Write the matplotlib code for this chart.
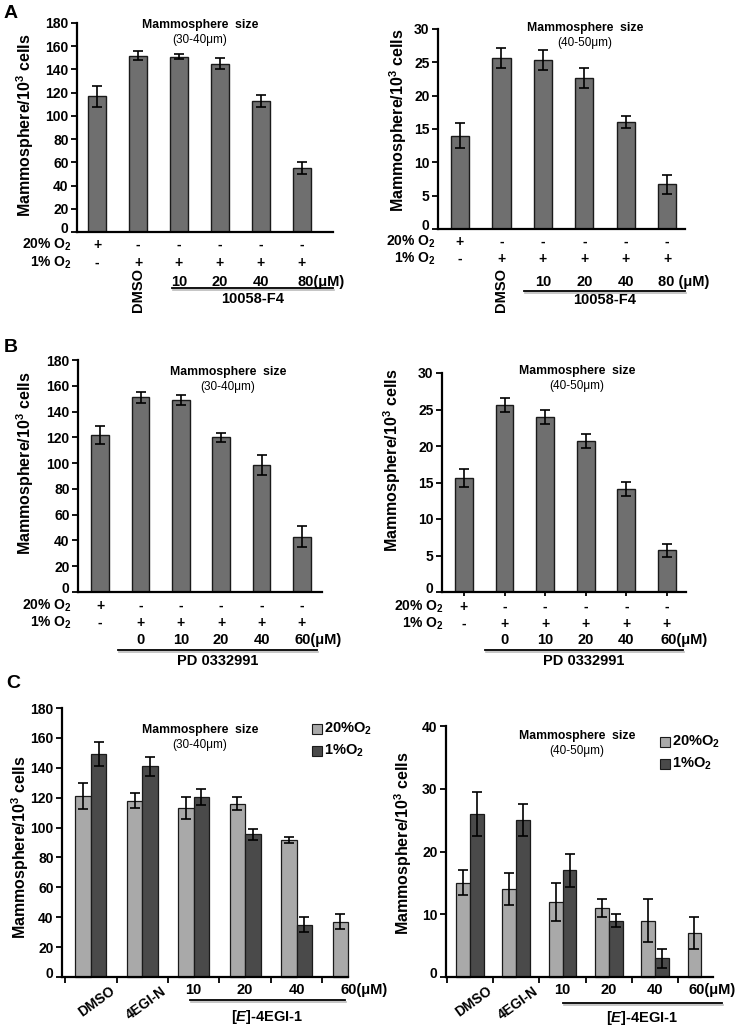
import numpy as np
import matplotlib
matplotlib.use('Agg')
import matplotlib.pyplot as plt
from matplotlib.transforms import blended_transform_factory, ScaledTranslation

plt.rcParams['font.family'] = ['Liberation Sans', 'DejaVu Sans']
plt.rcParams['font.weight'] = 'bold'
plt.rcParams['mathtext.fontset'] = 'custom'
plt.rcParams['mathtext.rm'] = 'Liberation Sans:bold'
plt.rcParams['mathtext.bf'] = 'Liberation Sans:bold'
plt.rcParams['mathtext.it'] = 'Liberation Sans:italic:bold'

# ---- data ----
a_dose = ['10', '20', '40', '80']
a_size30 = [117, 152, 151, 145, 113, 55]
a_err30 = [9, 3.5, 2, 5, 5, 5]
a_size40 = [14, 25.7, 25.3, 22.6, 16, 6.7]
a_err40 = [1.9, 1.5, 1.5, 1.5, 0.9, 1.4]

b_dose = ['0', '10', '20', '40', '60']
b_size30 = [122, 151, 149, 120, 98.5, 43]
b_err30 = [7, 4, 4, 3.5, 8, 8]
b_size40 = [15.6, 25.6, 24, 20.7, 14.1, 5.7]
b_err40 = [1.2, 1.0, 1.0, 1.0, 1.0, 0.9]

c_groups = ['DMSO', '4EGI-N']
c_dose = ['10', '20', '40', '60']
c_norm30 = [121, 118, 113, 116, 92, 37]
c_norm30_err = [8.5, 5, 7.5, 4.5, 2, 5]
c_hyp30 = [149, 141, 120.5, 95.5, 35, np.nan]
c_hyp30_err = [8, 6.5, 5.5, 3.5, 5, np.nan]
c_norm40 = [15, 14, 12, 11, 9, 7]
c_norm40_err = [2, 2.6, 3, 1.5, 3.5, 2.5]
c_hyp40 = [26, 25, 17, 9, 3, np.nan]
c_hyp40_err = [3.5, 2.5, 2.6, 1.1, 1.5, np.nan]

o2_20 = ['+', '-', '-', '-', '-', '-']
o2_1 = ['-', '+', '+', '+', '+', '+']

W, H = 745, 1025
fig = plt.figure(figsize=(W / 100, H / 100), dpi=100)

def fy(py):
    return 1 - py / H

def fx(px):
    return px / W

def make_ax(l, b, r, t):
    ax = fig.add_axes([fx(l), fy(b), (r - l) / W, (b - t) / H])
    for s in ['top', 'right']:
        ax.spines[s].set_visible(False)
    for s in ['left', 'bottom']:
        ax.spines[s].set_linewidth(1.6)
    ax.tick_params(axis='y', direction='out', length=4, width=1.3, labelsize=10, pad=2)
    ax.tick_params(axis='x', direction='out', length=3, width=1.3)
    return ax

def set_yaxis(ax, ylim, yticks):
    ax.set_ylim(*ylim)
    ax.set_yticks(yticks)
    ax.set_yticklabels([str(v) for v in yticks], fontweight='bold')
    # the "0" label sits a little above the axis line in the original
    zero = ax.get_yticklabels()[0]
    zero.set_transform(zero.get_transform() + ScaledTranslation(0, 3 / 72, fig.dpi_scale_trans))

def ylab(x, y):
    fig.text(fx(x), fy(y), 'Mammosphere/10$^3$ cells', rotation=90, ha='center', va='center',
             fontsize=11.5, fontweight='bold')

def title(x, y, rng):
    fig.text(fx(x), fy(y), 'Mammosphere  size', ha='center', va='center', fontsize=8.8)
    fig.text(fx(x), fy(y + 15), '(%s\u03bcm)' % rng, ha='center', va='center', fontsize=8.5,
             fontweight='normal')

def underline(x0, x1, ly):
    fig.add_artist(plt.Line2D([fx(x0), fx(x1)], [fy(ly), fy(ly)], color='black', lw=1.3))
    fig.add_artist(plt.Line2D([fx(x0) + 0.002, fx(x1) + 0.002], [fy(ly + 2), fy(ly + 2)],
                              color='#bbbbbb', lw=1.2))

def single_panel(box, vals, errs, ylim, yticks, xlim, rows, doses, unit_gap, last_off, drug,
                 drug_y, line, label_x, show_dmso, tick_center=False):
    ax = make_ax(*box)
    x = np.arange(len(vals))
    ax.bar(x, vals, width=0.44, color='#6f6f6f', edgecolor='#1a1a1a', linewidth=1.0,
           yerr=errs, capsize=3.5, error_kw=dict(ecolor='black', elinewidth=1.2, capthick=1.2))
    set_yaxis(ax, ylim, yticks)
    ax.set_xlim(*xlim)
    ax.set_xticks(x if tick_center else [])
    ax.set_xticklabels([])
    tr = blended_transform_factory(ax.transData, fig.transFigure)
    y20, y1, yd = rows
    fig.text(fx(label_x), fy(y20), '20% O$_2$', ha='right', va='center', fontsize=10)
    fig.text(fx(label_x), fy(y1), '1% O$_2$', ha='right', va='center', fontsize=10)
    for i in x:
        ax.text(i, fy(y20), o2_20[i], transform=tr, ha='center', va='center', fontsize=10)
        ax.text(i, fy(y1), o2_1[i], transform=tr, ha='center', va='center', fontsize=10)
    start = len(vals) - len(doses)
    for j, d in enumerate(doses):
        i = start + j
        if j == len(doses) - 1:
            ax.text(i + last_off, fy(yd), d + unit_gap + '(\u03bcM)', transform=tr, ha='left',
                    va='center', fontsize=10.5)
        else:
            ax.text(i, fy(yd), d, transform=tr, ha='center', va='center', fontsize=10.5)
    if show_dmso:
        ax.text(1, fy(show_dmso), 'DMSO', transform=tr, ha='center', va='center', rotation=90,
                fontsize=10.5)
    x0, x1, ly = line
    underline(x0, x1, ly)
    fig.text(fx((x0 + x1) / 2), fy(drug_y), drug, ha='center', va='center', fontsize=10.5)
    return ax

# ---- A ----
fig.text(fx(4), fy(13), 'A', fontsize=14, fontweight='bold', va='center')
single_panel((77, 232, 333, 23), a_size30, a_err30, (0, 180), range(0, 181, 20), (-0.49, 5.76),
             (245, 263, 282), a_dose, '', -0.1, '10058-F4', 299, (172, 333, 288), 72, 290)
ylab(25, 125)
title(200, 25, '30-40')

single_panel((438, 229, 685, 29), a_size40, a_err40, (0, 30), range(0, 31, 5), (-0.53, 5.43),
             (242, 259, 282), a_dose, ' ', -0.22, '10058-F4', 300, (524, 685, 291), 436, 290)
ylab(398, 120)
title(585, 28, '40-50')

# ---- B ----
fig.text(fx(4), fy(347), 'B', fontsize=14, fontweight='bold', va='center')
single_panel((78, 592, 322, 360), b_size30, b_err30, (0, 180), range(0, 181, 20), (-0.55, 5.5),
             (606, 623, 640), b_dose, '', -0.17, 'PD 0332991', 661, (118, 317, 650), 72, None)
ylab(25, 463)
title(228, 372, '30-40')

single_panel((442, 592, 686, 373), b_size40, b_err40, (0, 30), range(0, 31, 5), (-0.54, 5.47),
             (607, 624, 640), b_dose, '', -0.17, 'PD 0332991', 661, (485, 683, 650), 444, None,
             tick_center=True)
ylab(392, 460)
title(577, 371, '40-50')

# ---- C ----
fig.text(fx(6), fy(683), 'C', fontsize=14, fontweight='bold', va='center')

def grouped_panel(box, norm, nerr, hyp, herr, ylim, yticks, xlim, doses_y, last_off, line,
                  drug_y, leg_x, leg_y):
    ax = make_ax(*box)
    x = np.arange(len(norm))
    ek = dict(ecolor='black', elinewidth=1.2, capthick=1.2)
    ax.bar(x - 0.15, norm, width=0.3, color='#a9a9a9', edgecolor='#1a1a1a', linewidth=0.9,
           yerr=nerr, capsize=3.5, error_kw=ek, clip_on=False)
    ax.bar(x + 0.15, hyp, width=0.3, color='#4a4a4a', edgecolor='#1a1a1a', linewidth=0.9,
           yerr=herr, capsize=3.5, error_kw=ek)
    set_yaxis(ax, ylim, yticks)
    ax.set_xlim(*xlim)
    ax.set_xticks(np.arange(len(norm)) - 0.5)
    ax.set_xticklabels([])
    ax.tick_params(axis='x', length=4)
    tr = blended_transform_factory(ax.transData, fig.transFigure)
    for i, g in enumerate(c_groups):
        ax.text(i + 0.36, fy(box[1] + 7), g, transform=tr, ha='right', va='top', rotation=36,
                rotation_mode='anchor', fontsize=10)
    for j, d in enumerate(c_dose):
        i = len(c_groups) + j
        if j == len(c_dose) - 1:
            ax.text(i + last_off, fy(doses_y), d + '(\u03bcM)', transform=tr, ha='left',
                    va='center', fontsize=10.5)
        else:
            ax.text(i, fy(doses_y), d, transform=tr, ha='center', va='center', fontsize=10.5)
    x0, x1, ly = line
    underline(x0, x1, ly)
    fig.text(fx((x0 + x1) / 2), fy(drug_y), '[$\\mathit{E}$]-4EGI-1', ha='center', va='center',
             fontsize=10.5)
    for k, (lab, col) in enumerate([('20%O$_2$', '#a9a9a9'), ('1%O$_2$', '#4a4a4a')]):
        yy = leg_y + k * 22
        fig.add_artist(plt.Rectangle((fx(leg_x - 5), fy(yy + 5)), 10 / W, 10 / H,
                                     facecolor=col, edgecolor='#1a1a1a', lw=0.8))
        fig.text(fx(leg_x + 7), fy(yy), lab, ha='left', va='center', fontsize=10.5)
    return ax

grouped_panel((62, 977, 348, 708), c_norm30, c_norm30_err, c_hyp30, c_hyp30_err, (0, 180),
              range(0, 181, 20), (-0.56, 5.0), 990, -0.14, (190, 345, 1000), 1017, 317, 729)
ylab(20, 847)
title(200, 730, '30-40')

grouped_panel((446, 977, 713, 726), c_norm40, c_norm40_err, c_hyp40, c_hyp40_err, (0, 40),
              range(0, 41, 10), (-0.52, 5.25), 990, -0.28, (563, 722, 1003), 1018, 665, 742)
ylab(403, 843)
title(577, 736, '40-50')

fig.savefig('out.png', dpi=100)
